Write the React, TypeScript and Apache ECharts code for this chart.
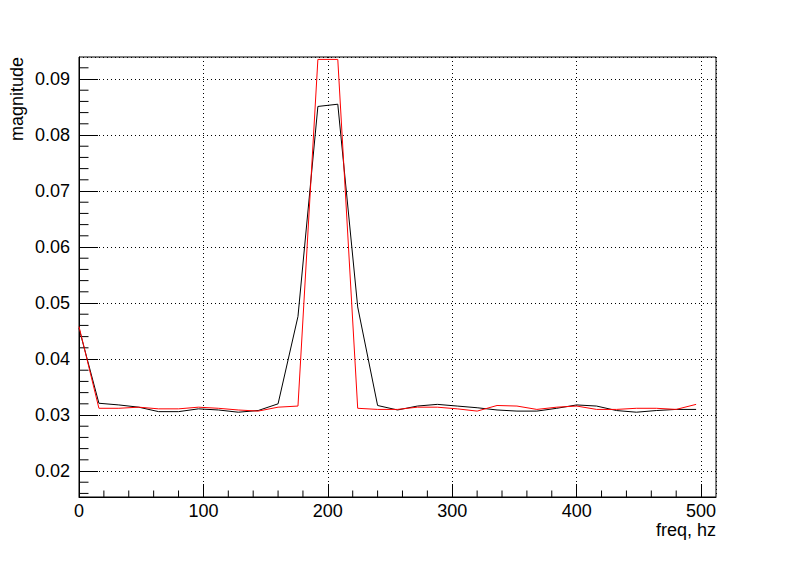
import React, { useEffect, useRef } from "react";
import * as echarts from "echarts";

const freqs = [0, 16, 32, 48, 64, 80, 96, 112, 128, 144, 160, 176, 192, 208, 224, 240, 256, 272, 288, 304, 320, 336, 352, 368, 384, 400, 416, 432, 448, 464, 480, 496];
const blackMagnitude = [0.0455, 0.0321, 0.0318, 0.0314, 0.0306, 0.0306, 0.0311, 0.0309, 0.0305, 0.0308, 0.032, 0.0476, 0.0851, 0.0855, 0.0493, 0.0317, 0.0309, 0.0316, 0.0319, 0.0316, 0.0313, 0.0309, 0.0307, 0.0307, 0.0312, 0.0318, 0.0316, 0.0308, 0.0305, 0.0308, 0.031, 0.031];
const redMagnitude = [0.0458, 0.0312, 0.0312, 0.0314, 0.0311, 0.0311, 0.0314, 0.0312, 0.0309, 0.0307, 0.0314, 0.0316, 0.0935, 0.0935, 0.0312, 0.031, 0.031, 0.0314, 0.0314, 0.0311, 0.0307, 0.0317, 0.0316, 0.031, 0.0314, 0.0316, 0.031, 0.031, 0.0312, 0.0312, 0.031, 0.0319];

const xMajorTicks = [0, 100, 200, 300, 400, 500];
const yMajorTicks = [0.02, 0.03, 0.04, 0.05, 0.06, 0.07, 0.08, 0.09];
const xMin = 0;
const xMax = 512;
const yMin = 0.01536;
const yMax = 0.09393;

const FONT = '"Liberation Sans", Arial, Helvetica, sans-serif';

function minorTicks(majors: number[], step: number, lo: number, hi: number, sub: number) {
  const out: number[] = [];
  const first = majors[0] - step;
  const last = majors[majors.length - 1] + step;
  for (let m = first; m <= last + 1e-9; m += step) {
    for (let k = 1; k < sub; k++) {
      const v = Math.round((m + (k * step) / sub) * 1e6) / 1e6;
      if (v > lo && v < hi) out.push(v);
    }
  }
  return out;
}

export default function App() {
  const ref = useRef<HTMLDivElement>(null);
  useEffect(() => {
    if (!ref.current) return;
    const chart = echarts.init(ref.current, undefined, { renderer: "svg" });
    const yMinor = minorTicks(yMajorTicks, 0.01, yMin, yMax, 5);
    const xMinor = minorTicks(xMajorTicks, 100, xMin, xMax, 5).filter((v) => v < 505);
    chart.setOption({
      animation: false,
      backgroundColor: "#ffffff",
      grid: {
        left: 79,
        top: 57,
        right: 80,
        bottom: 75,
        show: true,
        borderColor: "#000",
        borderWidth: 1,
        backgroundColor: "#fff",
      },
      xAxis: {
        type: "value",
        min: xMin,
        max: xMax,
        interval: 100,
        axisLine: { show: true, lineStyle: { color: "#000", width: 1 } },
        axisTick: { show: true, inside: true, length: 13, lineStyle: { color: "#000" } },
        minorTick: { show: false },
        splitLine: { show: true, lineStyle: { color: "#000", type: [1, 3], width: 1 } },
        axisLabel: {
          color: "#000",
          fontSize: 18,
          fontFamily: FONT,
          margin: 5,
          lineHeight: 18,
          showMaxLabel: false,
          formatter: (v: number) => (xMajorTicks.includes(v) ? String(v) : ""),
        },
      },
      yAxis: {
        type: "value",
        min: yMin,
        max: yMax,
        splitNumber: 8,
        minInterval: 0.01,
        maxInterval: 0.01,
        axisLine: { show: true, lineStyle: { color: "#000", width: 1 } },
        axisTick: { show: true, inside: true, length: 19, lineStyle: { color: "#000" } },
        minorTick: { show: false },
        splitLine: { show: true, lineStyle: { color: "#000", type: [1, 3], width: 1 } },
        axisLabel: {
          color: "#000",
          fontSize: 18,
          fontFamily: FONT,
          margin: 9,
          showMinLabel: false,
          showMaxLabel: false,
          formatter: (v: number) => {
            const hit = yMajorTicks.find((t) => Math.abs(t - v) < 1e-7);
            return hit !== undefined ? hit.toFixed(2) : "";
          },
        },
      },
      graphic: [
        {
          type: "text",
          x: 8,
          y: 57,
          rotation: Math.PI / 2,
          style: {
            text: "magnitude",
            fontSize: 18,
            fontFamily: FONT,
            fill: "#000",
            align: "right",
            verticalAlign: "top",
          },
        },
        {
          type: "text",
          x: 716,
          y: 521,
          style: {
            text: "freq, hz",
            fontSize: 18,
            fontFamily: FONT,
            lineHeight: 18,
            fill: "#000",
            align: "right",
            verticalAlign: "top",
          },
        },
      ],
      series: [
        {
          type: "custom",
          silent: true,
          coordinateSystem: "cartesian2d",
          data: yMinor.map((v) => [xMin, v]),
          encode: { x: 0, y: 1 },
          renderItem: (params: any, api: any) => {
            const p = api.coord([xMin, api.value(1)]);
            return {
              type: "line",
              shape: { x1: p[0], y1: p[1], x2: p[0] + 9.5, y2: p[1] },
              style: { stroke: "#000", lineWidth: 1 },
            };
          },
        },
        {
          type: "custom",
          silent: true,
          coordinateSystem: "cartesian2d",
          data: xMinor.map((v) => [v, yMin]),
          encode: { x: 0, y: 1 },
          renderItem: (params: any, api: any) => {
            const p = api.coord([api.value(0), yMin]);
            return {
              type: "line",
              shape: { x1: p[0], y1: p[1], x2: p[0], y2: p[1] - 6.5 },
              style: { stroke: "#000", lineWidth: 1 },
            };
          },
        },
        {
          type: "line",
          name: "black",
          data: freqs.map((f, i) => [f, blackMagnitude[i]]),
          showSymbol: false,
          symbol: "none",
          lineStyle: { color: "#000000", width: 1 },
          itemStyle: { color: "#000000" },
        },
        {
          type: "line",
          name: "red",
          data: freqs.map((f, i) => [f, redMagnitude[i]]),
          showSymbol: false,
          symbol: "none",
          lineStyle: { color: "#ff0000", width: 1 },
          itemStyle: { color: "#ff0000" },
        },
      ],
    });
    return () => chart.dispose();
  }, []);
  return (
    <div
      ref={ref}
      style={{ position: "fixed", left: 0, top: 0, width: 796, height: 572, background: "#fff" }}
    />
  );
}
